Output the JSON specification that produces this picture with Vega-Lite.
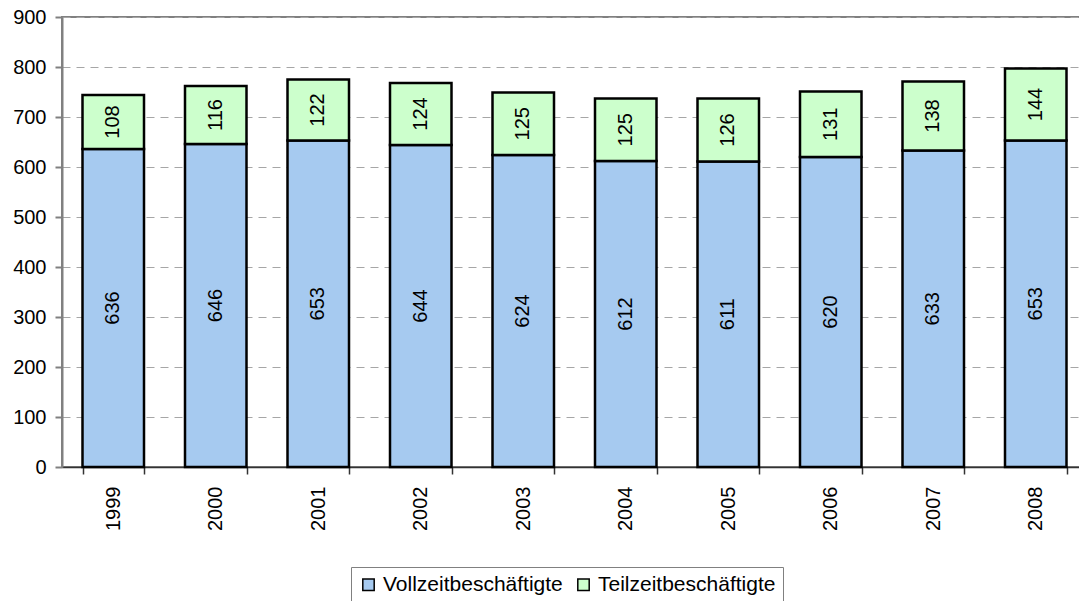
{
  "$schema": "https://vega.github.io/schema/vega-lite/v6.json",
  "width": 1025,
  "height": 450,
  "autosize": {"type": "none"},
  "padding": {"left": 62, "top": 17, "right": 0, "bottom": 134},
  "background": "white",
  "config": {
    "font": "Liberation Sans",
    "view": {"stroke": "#808080", "strokeWidth": 2}
  },
  "data": {
    "values": [
      {"year": "1999", "type": "Vollzeitbeschäftigte", "value": 636},
      {"year": "1999", "type": "Teilzeitbeschäftigte", "value": 108},
      {"year": "2000", "type": "Vollzeitbeschäftigte", "value": 646},
      {"year": "2000", "type": "Teilzeitbeschäftigte", "value": 116},
      {"year": "2001", "type": "Vollzeitbeschäftigte", "value": 653},
      {"year": "2001", "type": "Teilzeitbeschäftigte", "value": 122},
      {"year": "2002", "type": "Vollzeitbeschäftigte", "value": 644},
      {"year": "2002", "type": "Teilzeitbeschäftigte", "value": 124},
      {"year": "2003", "type": "Vollzeitbeschäftigte", "value": 624},
      {"year": "2003", "type": "Teilzeitbeschäftigte", "value": 125},
      {"year": "2004", "type": "Vollzeitbeschäftigte", "value": 612},
      {"year": "2004", "type": "Teilzeitbeschäftigte", "value": 125},
      {"year": "2005", "type": "Vollzeitbeschäftigte", "value": 611},
      {"year": "2005", "type": "Teilzeitbeschäftigte", "value": 126},
      {"year": "2006", "type": "Vollzeitbeschäftigte", "value": 620},
      {"year": "2006", "type": "Teilzeitbeschäftigte", "value": 131},
      {"year": "2007", "type": "Vollzeitbeschäftigte", "value": 633},
      {"year": "2007", "type": "Teilzeitbeschäftigte", "value": 138},
      {"year": "2008", "type": "Vollzeitbeschäftigte", "value": 653},
      {"year": "2008", "type": "Teilzeitbeschäftigte", "value": 144}
    ]
  },
  "transform": [
    {"stack": "value", "groupby": ["year"], "sort": [{"field": "type", "order": "descending"}], "as": ["v0", "v1"]},
    {"calculate": "(datum.v0 + datum.v1) / 2", "as": "vmid"}
  ],
  "encoding": {
    "x": {
      "field": "year", "type": "ordinal",
      "scale": {"paddingInner": 0.4, "paddingOuter": 0.2},
      "axis": {
        "title": null, "labelAngle": 270, "labelFontSize": 20, "labelColor": "black",
        "labelPadding": 12, "tickBand": "extent", "tickSize": 7, "tickColor": "#333333",
        "tickWidth": 1.5, "domainColor": "#333333", "domainWidth": 1.5, "labelAlign": "right",
        "labelBaseline": "middle"
      }
    }
  },
  "layer": [
    {
      "mark": {"type": "bar", "stroke": "black", "strokeWidth": 2.5},
      "encoding": {
        "y": {
          "field": "v1", "type": "quantitative",
          "scale": {"domain": [0, 900]},
          "axis": {
            "title": null, "values": [0, 100, 200, 300, 400, 500, 600, 700, 800, 900],
            "labelFontSize": 20, "labelColor": "black", "labelPadding": 9,
            "tickSize": 7, "tickColor": "#808080", "tickWidth": 2,
            "domainColor": "#808080", "domainWidth": 2,
            "grid": true, "gridColor": "#a6a6a6", "gridDash": [8, 6], "gridWidth": 1
          }
        },
        "y2": {"field": "v0"},
        "color": {
          "field": "type", "type": "nominal",
          "scale": {"domain": ["Vollzeitbeschäftigte", "Teilzeitbeschäftigte"], "range": ["#a6caf0", "#ccffcc"]},
          "legend": {
            "title": null, "orient": "none", "direction": "horizontal",
            "legendX": 289, "legendY": 550,
            "symbolType": "square", "symbolSize": 130, "symbolStrokeColor": "black", "symbolStrokeWidth": 1.5,
            "symbolOpacity": 1, "labelLimit": 0,
            "labelFontSize": 21, "labelColor": "black", "labelOffset": 4, "columnPadding": 10,
            "strokeColor": "#808080", "fillColor": "white", "padding": 7
          }
        }
      }
    },
    {
      "mark": {"type": "text", "angle": 270, "fontSize": 20, "color": "black", "align": "center", "baseline": "middle"},
      "encoding": {
        "y": {"field": "vmid", "type": "quantitative"},
        "text": {"field": "value", "type": "quantitative"}
      }
    }
  ]
}
